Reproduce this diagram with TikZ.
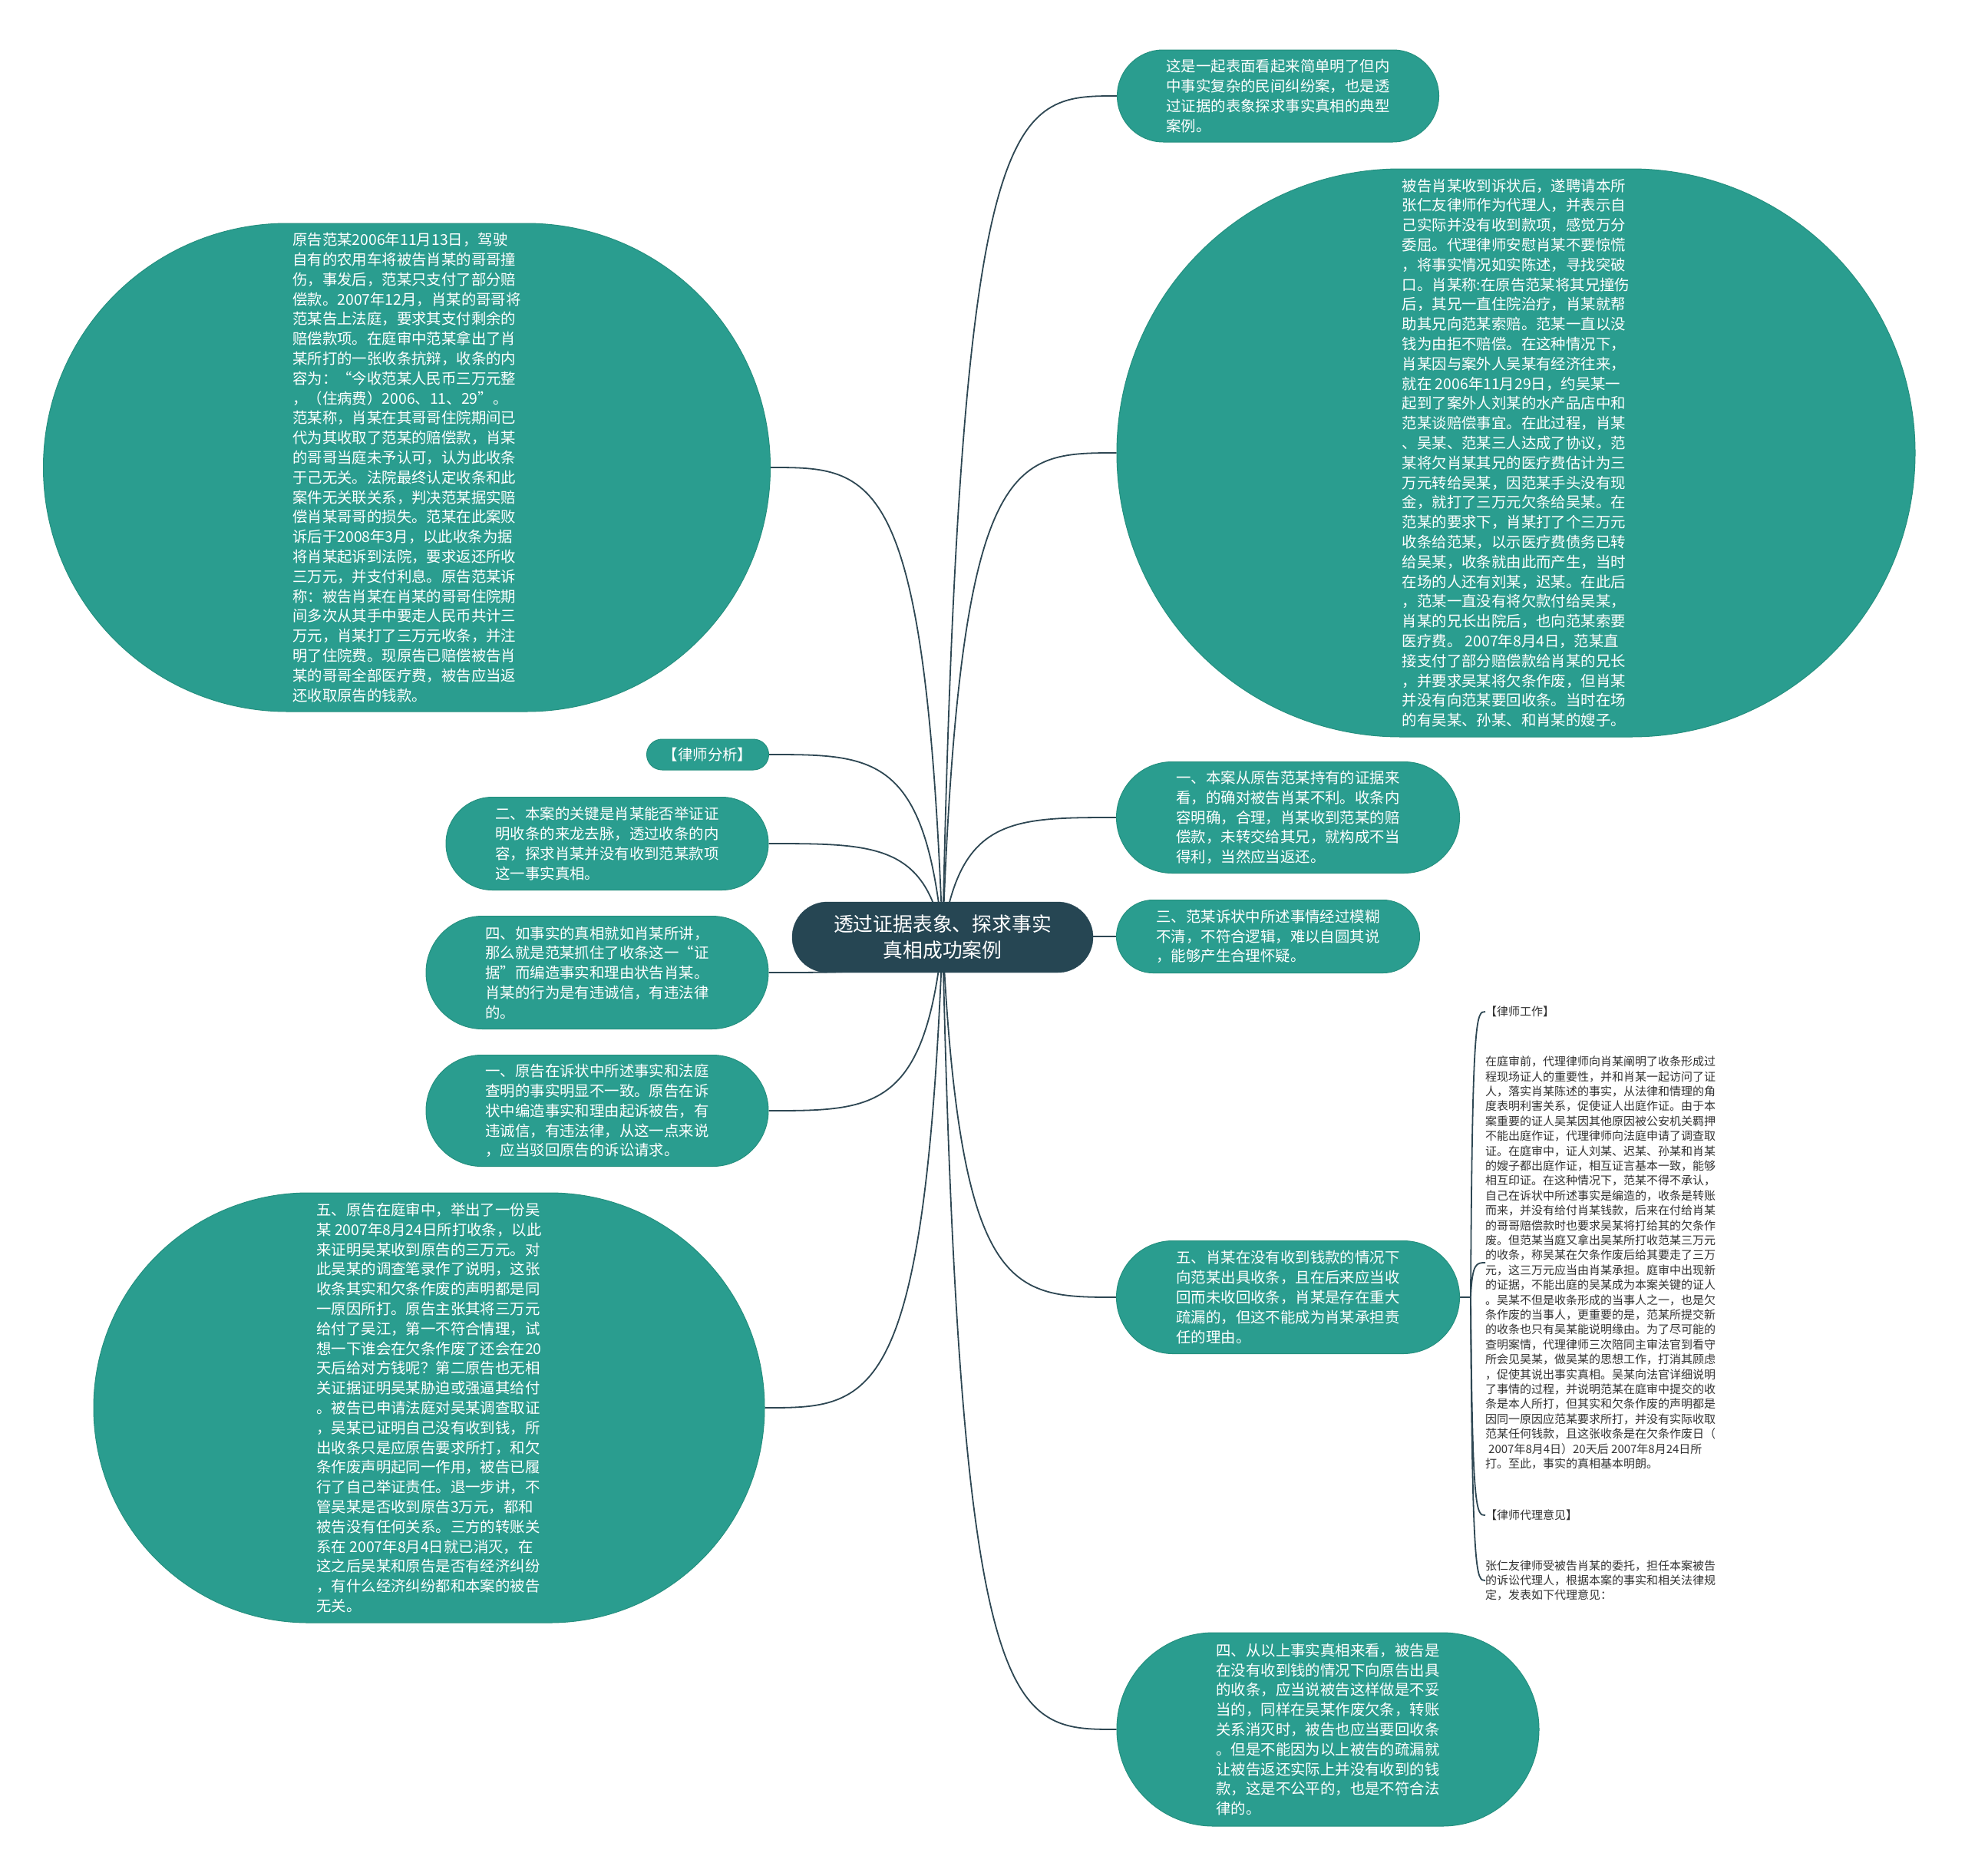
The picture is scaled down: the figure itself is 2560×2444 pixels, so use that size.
\documentclass[tikz,border=0pt]{standalone}
\usepackage{fontspec}
\setmainfont{Noto Sans CJK SC}
\usetikzlibrary{shapes.misc,calc}
\definecolor{tealfill}{HTML}{2A9D8F}
\definecolor{tealedge}{HTML}{25907F}
\definecolor{darkfill}{HTML}{264653}
\definecolor{linkcol}{HTML}{2E4753}
\definecolor{smalltxt}{HTML}{333333}
\pgfdeclarelayer{bg}
\pgfsetlayers{bg,main}
\begin{document}
\begin{tikzpicture}[x=1pt,y=-1pt,
  pill/.style={rounded rectangle, fill=tealfill, draw=tealedge, line width=1pt,
    text=white, align=left, inner sep=0pt,
    font=\fontsize{19.4pt}{25.8pt}\selectfont},
  rootbox/.style={rounded rectangle, fill=darkfill, draw=darkfill, text=white,
    align=center, inner sep=0pt, font=\fontsize{25.8pt}{34pt}\selectfont},
  smalltext/.style={inner sep=0pt, anchor=west, align=left, text=smalltxt,
    font=\fontsize{15pt}{19.4pt}\selectfont},
  conn/.style={draw=linkcol, line width=1.8pt},
  mm/.style={to path={let \p1=(\tikztostart), \p2=(\tikztotarget) in
    .. controls ({\x1+0.1*(\x2-\x1)},\y2) and ({\x1+0.4*(\x2-\x1)},\y2) .. (\tikztotarget)}}
]
\useasboundingbox (0,0) rectangle (2560,2444);

% root
\node[rootbox, minimum width=392pt, minimum height=92pt] (ctr) at (1228,1221)
  {透过证据表象、探求事实\\真相成功案例};

% right side
\node[pill, minimum width=419pt, minimum height=120pt] (n1) at (1665,125)
  {这是一起表面看起来简单明了但内\\中事实复杂的民间纠纷案，也是透\\过证据的表象探求事实真相的典型\\案例。};

\node[pill, minimum width=1040pt, minimum height=740pt] (n2) at (1975,590)
  {被告肖某收到诉状后，遂聘请本所\\张仁友律师作为代理人，并表示自\\己实际并没有收到款项，感觉万分\\委屈。代理律师安慰肖某不要惊慌\\，将事实情况如实陈述，寻找突破\\口。肖某称:在原告范某将其兄撞伤\\后，其兄一直住院治疗，肖某就帮\\助其兄向范某索赔。范某一直以没\\钱为由拒不赔偿。在这种情况下，\\肖某因与案外人吴某有经济往来，\\就在 2006年11月29日，约吴某一\\起到了案外人刘某的水产品店中和\\范某谈赔偿事宜。在此过程，肖某\\、吴某、范某三人达成了协议，范\\某将欠肖某其兄的医疗费估计为三\\万元转给吴某，因范某手头没有现\\金，就打了三万元欠条给吴某。在\\范某的要求下，肖某打了个三万元\\收条给范某，以示医疗费债务已转\\给吴某，收条就由此而产生，当时\\在场的人还有刘某，迟某。在此后\\，范某一直没有将欠款付给吴某，\\肖某的兄长出院后，也向范某索要\\医疗费。 2007年8月4日，范某直\\接支付了部分赔偿款给肖某的兄长\\，并要求吴某将欠条作废，但肖某\\并没有向范某要回收条。当时在场\\的有吴某、孙某、和肖某的嫂子。};

\node[pill, minimum width=447pt, minimum height=145pt] (nr1) at (1678,1065)
  {一、本案从原告范某持有的证据来\\看，的确对被告肖某不利。收条内\\容明确，合理，肖某收到范某的赔\\偿款，未转交给其兄，就构成不当\\得利，当然应当返还。};

\node[pill, minimum width=395pt, minimum height=95pt] (nr3) at (1652,1220)
  {三、范某诉状中所述事情经过模糊\\不清，不符合逻辑，难以自圆其说\\，能够产生合理怀疑。};

\node[pill, minimum width=447pt, minimum height=147pt] (nr5) at (1678,1690)
  {五、肖某在没有收到钱款的情况下\\向范某出具收条，且在后来应当收\\回而未收回收条，肖某是存在重大\\疏漏的，但这不能成为肖某承担责\\任的理由。};

\node[pill, minimum width=550pt, minimum height=252pt] (nr4) at (1730,2253)
  {四、从以上事实真相来看，被告是\\在没有收到钱的情况下向原告出具\\的收条，应当说被告这样做是不妥\\当的，同样在吴某作废欠条，转账\\关系消灭时，被告也应当要回收条\\。但是不能因为以上被告的疏漏就\\让被告返还实际上并没有收到的钱\\款，这是不公平的，也是不符合法\\律的。};

% left side
\node[pill, minimum width=947pt, minimum height=636pt] (n3) at (530,609)
  {原告范某2006年11月13日，驾驶\\自有的农用车将被告肖某的哥哥撞\\伤，事发后，范某只支付了部分赔\\偿款。2007年12月，肖某的哥哥将\\范某告上法庭，要求其支付剩余的\\赔偿款项。在庭审中范某拿出了肖\\某所打的一张收条抗辩，收条的内\\容为：“今收范某人民币三万元整\\，（住病费）2006、11、29”。\\范某称，肖某在其哥哥住院期间已\\代为其收取了范某的赔偿款，肖某\\的哥哥当庭未予认可，认为此收条\\于己无关。法院最终认定收条和此\\案件无关联关系，判决范某据实赔\\偿肖某哥哥的损失。范某在此案败\\诉后于2008年3月，以此收条为据\\将肖某起诉到法院，要求返还所收\\三万元，并支付利息。原告范某诉\\称：被告肖某在肖某的哥哥住院期\\间多次从其手中要走人民币共计三\\万元，肖某打了三万元收条，并注\\明了住院费。现原告已赔偿被告肖\\某的哥哥全部医疗费，被告应当返\\还收取原告的钱款。};

\node[pill, minimum width=159pt, minimum height=40pt] (nls) at (922,983)
  {【律师分析】};

\node[pill, minimum width=420pt, minimum height=121pt] (nl2) at (791,1099)
  {二、本案的关键是肖某能否举证证\\明收条的来龙去脉，透过收条的内\\容，探求肖某并没有收到范某款项\\这一事实真相。};

\node[pill, minimum width=446pt, minimum height=147pt] (nl4) at (778,1267)
  {四、如事实的真相就如肖某所讲，\\那么就是范某抓住了收条这一“证\\据”而编造事实和理由状告肖某。\\肖某的行为是有违诚信，有违法律\\的。};

\node[pill, minimum width=446pt, minimum height=145pt] (nl1) at (778,1447)
  {一、原告在诉状中所述事实和法庭\\查明的事实明显不一致。原告在诉\\状中编造事实和理由起诉被告，有\\违诚信，有违法律，从这一点来说\\，应当驳回原告的诉讼请求。};

\node[pill, minimum width=874pt, minimum height=560pt] (nl5) at (559,1834)
  {五、原告在庭审中，举出了一份吴\\某 2007年8月24日所打收条，以此\\来证明吴某收到原告的三万元。对\\此吴某的调查笔录作了说明，这张\\收条其实和欠条作废的声明都是同\\一原因所打。原告主张其将三万元\\给付了吴江，第一不符合情理，试\\想一下谁会在欠条作废了还会在20\\天后给对方钱呢？第二原告也无相\\关证据证明吴某胁迫或强逼其给付\\。被告已申请法庭对吴某调查取证\\，吴某已证明自己没有收到钱，所\\出收条只是应原告要求所打，和欠\\条作废声明起同一作用，被告已履\\行了自己举证责任。退一步讲，不\\管吴某是否收到原告3万元，都和\\被告没有任何关系。三方的转账关\\系在 2007年8月4日就已消灭，在\\这之后吴某和原告是否有经济纠纷\\，有什么经济纠纷都和本案的被告\\无关。};

% children of nr5 (plain text)
\node[smalltext] (c1) at (1935,1318) {【律师工作】};
\node[smalltext] (c2) at (1935,1645)
  {在庭审前，代理律师向肖某阐明了收条形成过\\程现场证人的重要性，并和肖某一起访问了证\\人，落实肖某陈述的事实，从法律和情理的角\\度表明利害关系，促使证人出庭作证。由于本\\案重要的证人吴某因其他原因被公安机关羁押\\不能出庭作证，代理律师向法庭申请了调查取\\证。在庭审中，证人刘某、迟某、孙某和肖某\\的嫂子都出庭作证，相互证言基本一致，能够\\相互印证。在这种情况下，范某不得不承认，\\自己在诉状中所述事实是编造的，收条是转账\\而来，并没有给付肖某钱款，后来在付给肖某\\的哥哥赔偿款时也要求吴某将打给其的欠条作\\废。但范某当庭又拿出吴某所打收范某三万元\\的收条，称吴某在欠条作废后给其要走了三万\\元，这三万元应当由肖某承担。庭审中出现新\\的证据，不能出庭的吴某成为本案关键的证人\\。吴某不但是收条形成的当事人之一，也是欠\\条作废的当事人，更重要的是，范某所提交新\\的收条也只有吴某能说明缘由。为了尽可能的\\查明案情，代理律师三次陪同主审法官到看守\\所会见吴某，做吴某的思想工作，打消其顾虑\\，促使其说出事实真相。吴某向法官详细说明\\了事情的过程，并说明范某在庭审中提交的收\\条是本人所打，但其实和欠条作废的声明都是\\因同一原因应范某要求所打，并没有实际收取\\范某任何钱款，且这张收条是在欠条作废日（\\\hspace*{4pt}2007年8月4日）20天后 2007年8月24日所\\打。至此，事实的真相基本明朗。};
\node[smalltext] (c3) at (1935,1974) {【律师代理意见】};
\node[smalltext] (c4) at (1935,2059)
  {张仁友律师受被告肖某的委托，担任本案被告\\的诉讼代理人，根据本案的事实和相关法律规\\定，发表如下代理意见：};

\coordinate (jn) at ($(nr5.east)+(14,0)$);

\begin{pgfonlayer}{bg}
  \fill[white] (0,0) rectangle (2560,2444);
  \draw[conn] (ctr.center) to[mm] (n1.west);
  \draw[conn] (ctr.center) to[mm] (n2.west);
  \draw[conn] (ctr.center) to[mm] (nr1.west);
  \draw[conn] (ctr.center) to[mm] (nr3.west);
  \draw[conn] (ctr.center) to[mm] (nr5.west);
  \draw[conn] (ctr.center) to[mm] (nr4.west);
  \draw[conn] (ctr.center) to[mm] (n3.east);
  \draw[conn] (ctr.center) to[mm] (nls.east);
  \draw[conn] (ctr.center) to[mm] (nl2.east);
  \draw[conn] (ctr.center) to[mm] (nl4.east);
  \draw[conn] (ctr.center) to[mm] (nl1.east);
  \draw[conn] (ctr.center) to[mm] (nl5.east);
  \draw[conn] (nr5.east) -- (jn);
  \draw[conn] (jn) to[mm] (c1.west);
  \draw[conn] (jn) to[mm] (c2.west);
  \draw[conn] (jn) to[mm] (c3.west);
  \draw[conn] (jn) to[mm] (c4.west);
\end{pgfonlayer}
\end{tikzpicture}
\end{document}
